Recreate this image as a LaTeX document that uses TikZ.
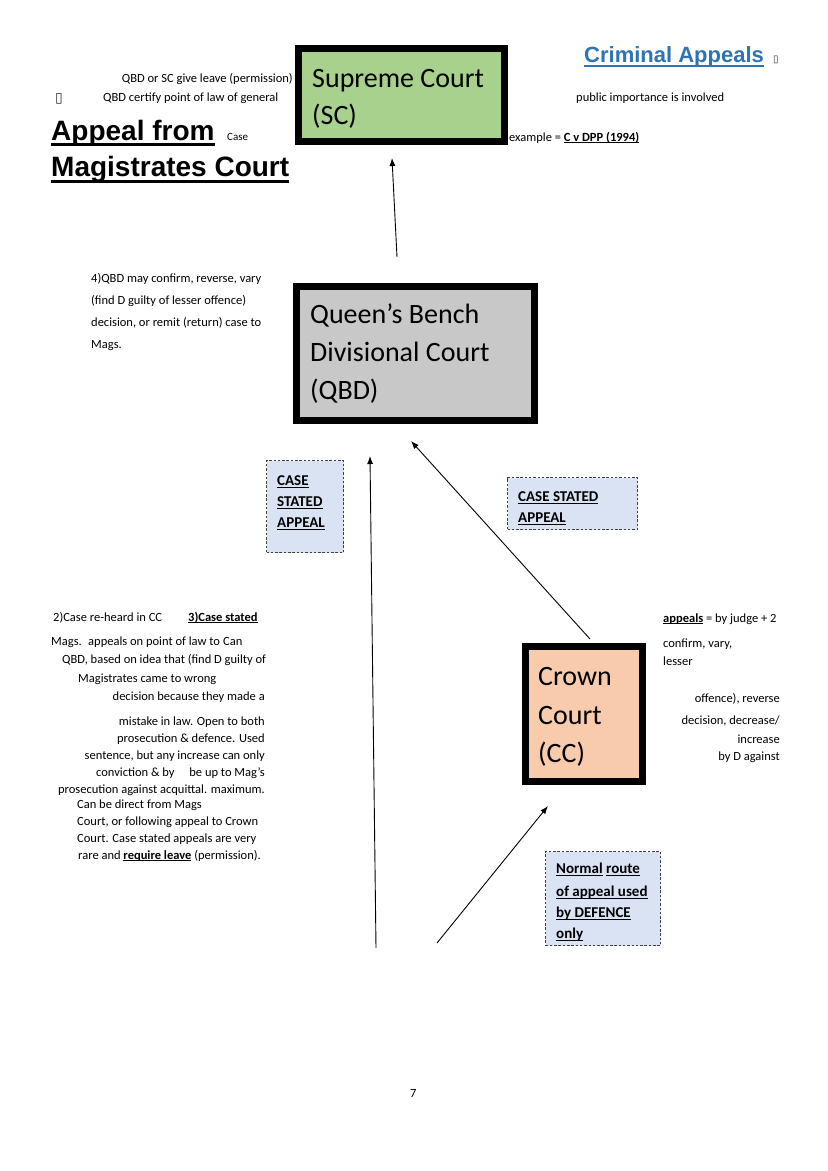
\documentclass[tikz,border=0pt]{standalone}
\usepackage{fontspec}
\setmainfont{Carlito}
\newfontfamily\arialfont{Liberation Sans}
\newfontfamily\symfont{DejaVu Sans}
\usetikzlibrary{arrows.meta}
\definecolor{scgreen}{HTML}{A9D18E}
\definecolor{qbdgray}{HTML}{C8C8C8}
\definecolor{ccpeach}{HTML}{F8CBAD}
\definecolor{notebg}{HTML}{DAE3F3}
\definecolor{notedash}{HTML}{404040}
\definecolor{titleblue}{HTML}{2E74B5}
% underline: #1 depth of the rule bottom, #2 rule thickness, #3 text
\newcommand{\ulx}[3]{\setbox0\hbox{#3}\rlap{\rule[-#1]{\wd0}{#2}}\box0\relax}
\newcommand{\ulb}[1]{\ulx{2.2pt}{0.9pt}{\textbf{#1}}}
\newcommand{\uln}[1]{\ulx{2.8pt}{1.1pt}{#1}}
\begin{document}
\begin{tikzpicture}[x=1pt,y=-1pt,
  court/.style={draw=black, line width=7pt, inner sep=0pt},
  note/.style={draw=notedash, fill=notebg, line width=0.9pt, dash pattern=on 2.5pt off 1.8pt, inner sep=0pt},
  txt/.style={anchor=base west, inner sep=0pt, font=\fontsize{12.5}{15}\selectfont},
  rtxt/.style={anchor=base east, inner sep=0pt, font=\fontsize{12.5}{15}\selectfont},
  bigtxt/.style={anchor=base west, inner sep=0pt, font=\fontsize{28}{34}\selectfont},
  notetxt/.style={anchor=base west, inner sep=0pt, font=\fontsize{15}{18}\selectfont\bfseries},
  headtxt/.style={anchor=base west, inner sep=0pt, font=\fontsize{28}{34}\selectfont\arialfont\bfseries},
  tofu/.style={anchor=base west, inner sep=0pt, text=black!80},
  arr/.style={-{Latex[length=8pt,width=6pt]}, line width=0.9pt, black}
]
\useasboundingbox (0,0) rectangle (828,1171);
\fill[white] (0,0) rectangle (828,1171);

% ---- court boxes ----
\node[court, fill=scgreen, minimum width=206pt, minimum height=93pt] (sc) at (401.5,95) {};
\node[bigtxt] (sc1) at (312,87) {Supreme Court};
\node[bigtxt] (sc2) at (312,124) {(SC)};

\node[court, fill=qbdgray, minimum width=238pt, minimum height=134pt] (qbd) at (415.5,353.5) {};
\node[bigtxt] (qbd1) at (310,323) {Queen’s Bench};
\node[bigtxt] (qbd2) at (310,361) {Divisional Court};
\node[bigtxt] (qbd3) at (310,399) {(QBD)};

\node[court, fill=ccpeach, minimum width=117pt, minimum height=135pt] (cc) at (584,714) {};
\node[bigtxt] (cc1) at (538,685) {Crown};
\node[bigtxt] (cc2) at (538,724) {Court};
\node[bigtxt] (cc3) at (538,762) {(CC)};

% ---- dashed notes ----
\node[note, minimum width=77pt, minimum height=92pt] (csl) at (305,506.5) {};
\node[notetxt] (csl1) at (277,485) {\uln{CASE}};
\node[notetxt] (csl2) at (277,506) {\uln{STATED}};
\node[notetxt] (csl3) at (277,527) {\uln{APPEAL}};

\node[note, minimum width=130pt, minimum height=52pt] (csr) at (572.5,503.5) {};
\node[notetxt] (csr1) at (518,501) {\uln{CASE STATED}};
\node[notetxt] (csr2) at (518,522) {\uln{APPEAL}};

\node[note, minimum width=115pt, minimum height=94pt] (nr) at (603,898.5) {};
\node[notetxt] (nr1) at (556,873) {\uln{Normal} \uln{route}};
\node[notetxt] (nr2) at (556,896) {\uln{of appeal used}};
\node[notetxt] (nr3) at (556,917) {\uln{by DEFENCE}};
\node[notetxt] (nr4) at (556,938) {\uln{only}};

% ---- arrows ----
\coordinate (qbdtop) at (397,257);
\coordinate (scbot) at (392,158);
\coordinate (magsA) at (376,948);
\coordinate (qbdbotA) at (370,456);
\coordinate (cctop) at (590,639);
\coordinate (qbdbotB) at (411,441);
\coordinate (magsB) at (437,943);
\coordinate (ccbot) at (548,806);
\draw[arr] (qbdtop) -- (scbot);
\draw[arr] (magsA) -- (qbdbotA);
\draw[arr] (cctop) -- (qbdbotB);
\draw[arr] (magsB) -- (ccbot);

% ---- headings ----
\node[anchor=base west, inner sep=0pt, font=\fontsize{22}{26}\selectfont\arialfont\bfseries, text=titleblue] (title) at (584,62) {\ulx{4.5pt}{1.8pt}{Criminal Appeals}};
\node[tofu, font=\fontsize{10}{11}\selectfont\symfont] (tofu1) at (773,62) {▯};
\node[headtxt] (h1) at (51,140) {\ulx{6pt}{2.6pt}{Appeal from}};
\node[headtxt] (h2) at (51,176) {\ulx{6.5pt}{2.6pt}{Magistrates Court}};

% ---- top texts ----
\node[rtxt] (t1) at (293,82) {QBD or SC give leave (permission)};
\node[tofu, font=\fontsize{14}{15}\selectfont\symfont] (tofu2) at (55,102) {▯};
\node[txt] (t2) at (103,101) {QBD certify point of law of general};
\node[txt] (t3) at (576,101) {public importance is involved};
\node[txt, font=\fontsize{11}{13}\selectfont] (t4) at (227,140) {Case};
\node[txt] (t5) at (509,141) {example = \ulb{C v DPP (1994)}};

% ---- QBD powers ----
\node[txt] (p1) at (91,282) {4)QBD may confirm, reverse, vary};
\node[txt] (p2) at (91,304) {(find D guilty of lesser offence)};
\node[txt] (p3) at (91,326) {decision, or remit (return) case to};
\node[txt] (p4) at (91,348) {Mags.};

% ---- left lower block ----
\node[txt] (l1a) at (53,621) {2)Case re-heard in CC};
\node[txt] (l1b) at (188,621) {\ulb{3)Case stated}};
\node[txt] (l2a) at (51,645) {Mags.};
\node[txt] (l2b) at (88,645) {appeals on point of law to};
\node[txt] (l2c) at (223,645) {Can};
\node[txt] (l3) at (62,663) {QBD, based on idea that (find D guilty of};
\node[txt] (l4) at (78,682) {Magistrates came to wrong};
\node[rtxt] (l5) at (265,700) {decision because they made a};
\node[rtxt] (l6) at (265,725) {mistake in law. Open to both};
\node[rtxt] (l7) at (265,742) {prosecution \& defence. Used};
\node[rtxt] (l8) at (265,759) {sentence, but any increase can only};
\node[txt] (l9a) at (96,776) {conviction \& by};
\node[rtxt] (l9b) at (265,776) {be up to Mag’s};
\node[rtxt] (l10) at (265,793) {prosecution against acquittal. maximum.};
\node[txt] (l11) at (77,808) {Can be direct from Mags};
\node[txt] (l12) at (77,825) {Court, or following appeal to Crown};
\node[txt] (l13) at (77,842) {Court. Case stated appeals are very};
\node[txt] (l14) at (78,859) {rare and \ulb{require leave} (permission).};

% ---- right block ----
\node[txt] (r1) at (663,622) {\ulb{appeals} = by judge + 2};
\node[txt] (r2) at (663,647) {confirm, vary,};
\node[txt] (r3) at (663,665) {lesser};
\node[rtxt] (r4) at (780,702) {offence), reverse};
\node[rtxt] (r5) at (780,724) {decision, decrease/};
\node[rtxt] (r6) at (780,743) {increase};
\node[rtxt] (r7) at (780,760) {by D against};

% ---- page number ----
\node[txt] (pg) at (410,1097) {7};
\end{tikzpicture}
\end{document}
